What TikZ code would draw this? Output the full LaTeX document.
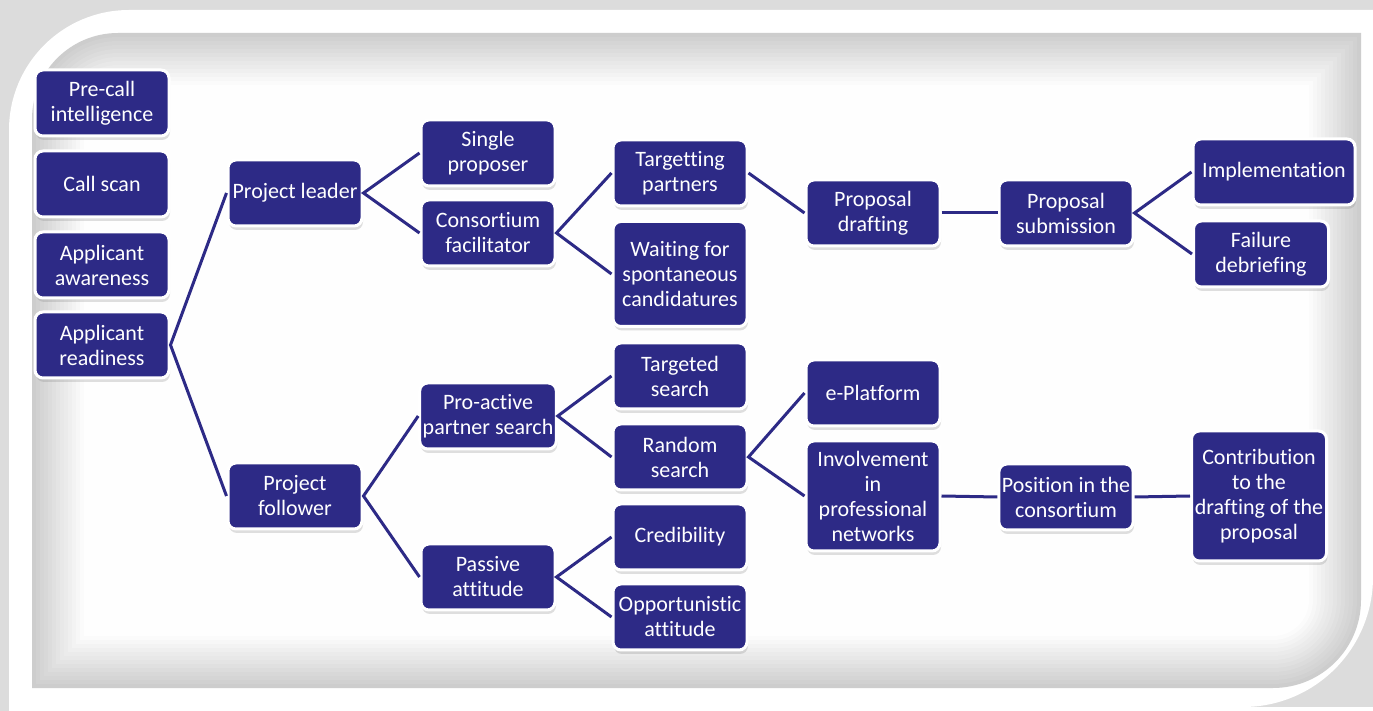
\documentclass[tikz,border=0pt]{standalone}
\usepackage{fontspec}
\setmainfont[Ligatures=NoCommon]{Carlito}
\usetikzlibrary{shadows}
\definecolor{navy}{HTML}{2D2A86}
\definecolor{rim}{HTML}{DCDCDC}
\definecolor{panel}{HTML}{CDCDCD}

\tikzset{
  stage/.style={draw=white, line width=1.5pt, fill=navy, text=white, rounded corners=4pt,
    align=center, minimum width=67pt, minimum height=33pt, inner sep=1.5pt,
    font=\fontsize{11}{12.5}\selectfont,
    drop shadow={opacity=0.25, shadow xshift=0.5pt, shadow yshift=-2pt}},
  link/.style={draw=navy, line width=1.5pt}
}

\begin{document}
\begin{tikzpicture}[x=0.5pt, y=-0.5pt]
	\useasboundingbox (0,0) rectangle (1373,711);
	% frame
	\fill [rim] (0,0) rectangle (1373,711);
	\fill [white] (9,711) -- (9,130) arc (180:270:120) -- (1373,10) -- (1373,577) arc (0:90:130) -- (1243,711) -- cycle;
	\fill [white] (1243,707) rectangle (1373,711);
	% panel, fading to white towards the middle
	\foreach \d in {0,4,...,52} {
		\pgfmathsetmacro\p{100-1.9*\d}
		\fill [panel!\p!white] (32+\d,688-\d) -- (32+\d,119) arc (180:270:86-\d) -- (1361-\d,33+\d) -- (1361-\d,600) arc (0:90:88-\d) -- cycle;
	}
	%
	\node [stage] (intel) at (102,103) {Pre-call\\intelligence};
	\node [stage] (scan) at (102,184) {Call scan};
	\node [stage] (aware) at (102,265) {Applicant\\awareness};
	\node [stage] (ready) at (102,345) {Applicant\\readiness};
	%
	\node [stage] (leader) at (295,193) {Project leader};
	\node [stage] (follower) at (295,496) {Project\\follower};
	%
	\node [stage] (single) at (488,153) {Single\\proposer};
	\node [stage] (facil) at (488,233) {Consortium\\facilitator};
	\node [stage] (proact) at (488,416) {Pro-active\\partner search};
	\node [stage] (passive) at (488,577) {Passive\\attitude};
	%
	\node [stage] (targetting) at (680,173) {Targetting\\partners};
	\node [stage, minimum height=52.5pt] (waiting) at (680,274) {Waiting for\\spontaneous\\candidatures};
	\node [stage] (targeted) at (680,376) {Targeted\\search};
	\node [stage] (random) at (680,457) {Random\\search};
	\node [stage] (cred) at (680,537) {Credibility};
	\node [stage] (opport) at (680,617) {Opportunistic\\attitude};
	%
	\node [stage] (drafting) at (873,213) {Proposal\\drafting};
	\node [stage] (eplat) at (873,393) {e-Platform};
	\node [stage, minimum height=55pt] (involve) at (873,496) {Involvement\\in\\professional\\networks};
	%
	\node [stage] (submit) at (1066,213) {Proposal\\submission};
	\node [stage] (position) at (1066,497) {Position in the\\consortium};
	%
	\node [stage, minimum width=81pt] (impl) at (1274,172) {Implementation};
	\node [stage, minimum width=67.5pt] (failure) at (1261,254) {Failure\\debriefing};
	\node [stage, minimum width=67.5pt, minimum height=65pt] (contrib) at (1259,496) {Contribution\\to the\\drafting of the\\proposal};
	%
	\draw [link] (leader.west) -- (ready.east) -- (follower.west);
	\draw [link] (single.west) -- (leader.east) -- (facil.west);
	\draw [link] (targetting.west) -- (facil.east) -- (waiting.west);
	\draw [link] (targetting.east) -- (drafting.west);
	\draw [link] (drafting.east) -- (submit.west);
	\draw [link] (impl.west) -- (submit.east) -- (failure.west);
	\draw [link] (proact.west) -- (follower.east) -- (passive.west);
	\draw [link] (targeted.west) -- (proact.east) -- (random.west);
	\draw [link] (cred.west) -- (passive.east) -- (opport.west);
	\draw [link] (eplat.west) -- (random.east) -- (involve.west);
	\draw [link] (involve.east) -- (position.west);
	\draw [link] (position.east) -- (contrib.west);
\end{tikzpicture}
\end{document}
